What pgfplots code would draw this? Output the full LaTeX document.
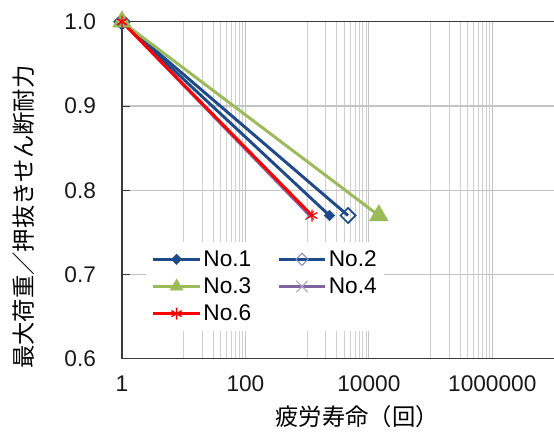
\documentclass[border=0pt]{standalone}
\usepackage{fontspec}
\setmainfont{Liberation Sans}
\newfontfamily\jp{Noto Sans CJK JP}
\usepackage{pgfplots}
\pgfplotsset{compat=1.18}

\definecolor{c1}{HTML}{1F4A8A}
\definecolor{c3}{HTML}{9BBB59}
\definecolor{c4}{HTML}{8064A2}
\definecolor{c6}{HTML}{FF0000}
\definecolor{gridc}{HTML}{C4C4C4}
\definecolor{axc}{HTML}{3A3A3A}

\begin{document}
\begin{tikzpicture}
\begin{axis}[
    xmode=log,
    scale only axis,
    width=324pt, height=252.75pt,
    xmin=1, xmax=1e7,
    ymin=0.6, ymax=1.0,
    axis x line*=box, axis y line*=left,
    axis line style={axc, line width=0.8pt},
    xtick={1,100,10000,1000000},
    xticklabels={1,100,10000,1000000},
    minor xtick={10,20,30,40,50,60,70,80,90,
                 1000,2000,3000,4000,5000,6000,7000,8000,9000,
                 100000,200000,300000,400000,500000,600000,700000,800000,900000},
    ytick={0.6,0.7,0.8,0.9,1.0},
    yticklabels={0.6,0.7,0.8,0.9,1.0},
    grid=both,
    major grid style={gridc, line width=0.8pt},
    minor grid style={gridc!80, line width=0.7pt},
    xtick style={draw=none},
    ytick style={axc, line width=0.7pt},
    tick align=inside, major tick length=6pt, minor tick length=0pt,
    tick label style={font=\fontsize{17}{20}\selectfont, text=black!90},
    yticklabel style={xshift=-16pt},
    xticklabel style={yshift=-9pt},
    xlabel={\jp 疲労寿命（回）},
    ylabel={\jp 最大荷重／押抜きせん断耐力},
    xlabel style={at={(axis description cs:0.544,-0.172)}, anchor=center, font=\fontsize{17.5}{20}\selectfont},
    ylabel style={at={(axis description cs:-0.227,0.42)}, anchor=center, font=\fontsize{17.5}{20}\selectfont},
    clip=false,
    legend style={at={(rel axis cs:0.056,0.346)}, anchor=north west, draw=none, fill=white,
        font=\fontsize{17}{20}\selectfont, legend columns=2, row sep=3pt,
        inner sep=4pt,
        nodes={inner xsep=1.5pt, inner ysep=2pt},
        /tikz/every even column/.append style={column sep=18pt}},
    legend cell align=left,
    legend image code/.code={\draw[mark repeat=2,mark phase=2,#1] plot coordinates {(0pt,0pt) (17.5pt,0pt) (35pt,0pt)};},
]
\addplot[c1, line width=2.2pt, mark=square*, mark size=2.7pt,
    mark options={solid, rotate=45, fill=c1, line width=0.5pt}]
    coordinates {(1,1.0) (2300,0.77)};
\addlegendentry{No.1}
\addplot[c1, line width=2.2pt, mark=square, mark size=4pt,
    mark options={solid, rotate=45, fill=white, line width=1.3pt},
    legend image post style={mark size=3.2pt, mark options={solid, rotate=45, fill=white, draw=c1!60, line width=0.8pt}}]
    coordinates {(1,1.0) (4600,0.77)};
\addlegendentry{No.2}
\addplot[c3, line width=2.2pt, mark=triangle*, mark size=8pt,
    mark options={solid, line width=0.5pt},
    legend image post style={mark size=5.5pt}]
    coordinates {(1,1.0) (14500,0.77)};
\addlegendentry{No.3}
\addplot[c4, line width=2.2pt, mark=x, mark size=4.5pt,
    mark options={solid, line width=0.9pt},
    legend image post style={mark size=6pt, mark options={solid, draw=c4!60, line width=0.8pt}}]
    coordinates {(1,1.0) (1100,0.77)};
\addlegendentry{No.4}
\addplot[c6, line width=2.2pt, mark=asterisk, mark size=4.5pt,
    mark options={solid, line width=1pt}]
    coordinates {(1,1.0) (1200,0.77)};
\addlegendentry{No.6}
\coordinate (bl) at (rel axis cs:0,0);
\coordinate (tr) at (rel axis cs:1,1);
\end{axis}
\pgfresetboundingbox
\path[use as bounding box] ([shift={(-91.5pt,-55pt)}]bl) rectangle ([shift={(0pt,16.3pt)}]tr);
\end{tikzpicture}
\end{document}
